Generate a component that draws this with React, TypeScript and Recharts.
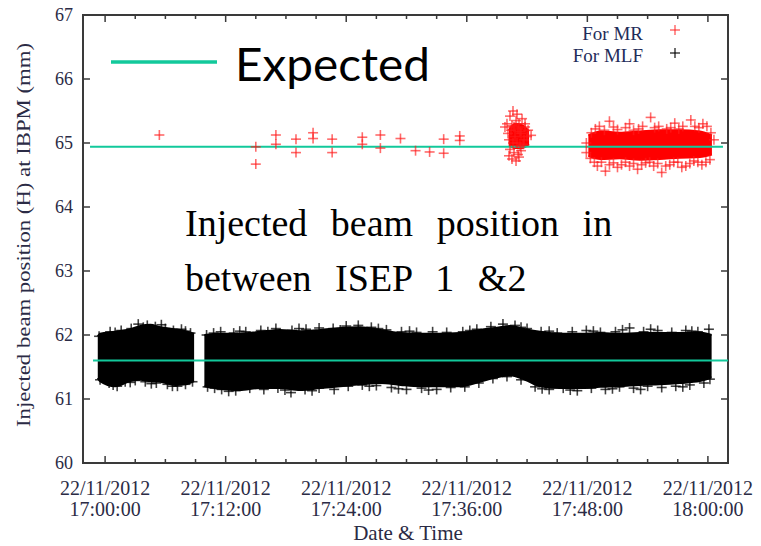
import React from 'react';
import { ComposedChart, XAxis, YAxis, Scatter, Area, ReferenceLine, ReferenceArea } from 'recharts';

// ---------- data (minutes after 17:00:00, position in mm) ----------
const xTicks = [0, 3, 6, 9, 12, 15, 18, 21, 24, 27, 30, 33, 36, 39, 42, 45, 48, 51, 54, 57, 60];
const xMajorTicks = [0, 12, 24, 36, 48, 60];
const xTickDate = '22/11/2012';
const xTickTimes = ['17:00:00', '17:12:00', '17:24:00', '17:36:00', '17:48:00', '18:00:00'];
const yTicks = [60, 61, 62, 63, 64, 65, 66, 67];

const expectedMR = 64.94;
const expectedMLF = 61.6;
const expectedMRSpan = [-1.5, 61.5];
const expectedMLFSpan = [-1.2, 62];

// MLF dense band envelope: [t, low, high]
const mlfBand1: [number, number, number][] = [
  [-0.73, 61.33, 61.98], [-0.5, 61.28, 62.02], [1.0, 61.2, 62.05], [2.5, 61.28, 62.09],
  [3.5, 61.3, 62.14], [4.5, 61.28, 62.16], [5.5, 61.27, 62.12], [7.0, 61.22, 62.09],
  [8.0, 61.23, 62.06], [8.86, 61.28, 62.02],
];
const mlfBand2: [number, number, number][] = [
  [9.88, 61.2, 62.0], [11.4, 61.16, 62.02], [13.4, 61.14, 62.02], [15.4, 61.17, 62.05],
  [17.4, 61.17, 62.08], [19.4, 61.14, 62.06], [21.4, 61.17, 62.08], [23.4, 61.2, 62.11],
  [25.4, 61.23, 62.12], [27.4, 61.25, 62.08], [29.4, 61.22, 62.03], [31.3, 61.2, 62.02],
  [33.3, 61.2, 62.02], [35.3, 61.2, 62.03], [37.3, 61.27, 62.08], [38.8, 61.33, 62.11],
  [40.3, 61.37, 62.14], [41.8, 61.3, 62.09], [43.3, 61.2, 62.05], [45.3, 61.17, 62.02],
  [47.3, 61.17, 62.02], [49.3, 61.19, 62.03], [51.2, 61.2, 62.02], [53.2, 61.22, 62.03],
  [55.2, 61.23, 62.03], [57.2, 61.25, 62.03], [59.2, 61.28, 62.04], [60.37, 61.34, 62.0],
];
// MLF outlying shots along the band edges: [t, v]
const mlfEdgePoints: [number, number][] = [
  [-0.6, 61.98], [0.5, 62.05], [1.6, 62.07], [2.6, 62.1], [3.3, 62.17], [4.2, 62.15], [5.0, 62.13],
  [6.0, 62.1], [6.8, 62.07], [7.6, 62.09], [8.5, 62.03], [1.0, 62.04], [3.8, 62.12], [5.6, 62.16], [8.0, 62.06],
  [-0.5, 61.3], [0.4, 61.25], [1.2, 61.2], [2.0, 61.27], [3.0, 61.29], [4.0, 61.27], [5.1, 61.25],
  [6.2, 61.23], [7.2, 61.2], [8.0, 61.23], [8.7, 61.27], [0.8, 61.22], [2.5, 61.26], [4.6, 61.24], [6.7, 61.2],
  [10.1, 62.0], [11.5, 62.05], [12.8, 62.03], [14.0, 62.05], [15.5, 62.07], [17.0, 62.1], [18.6, 62.07],
  [20.0, 62.09], [21.3, 62.11], [22.7, 62.1], [24.0, 62.14], [25.2, 62.15], [26.5, 62.12], [28.0, 62.08],
  [29.5, 62.05], [31.0, 62.04], [32.6, 62.05], [34.0, 62.04], [35.6, 62.05], [37.0, 62.09], [38.4, 62.13],
  [39.6, 62.17], [40.8, 62.15], [42.0, 62.1], [43.4, 62.05], [45.0, 62.03], [46.5, 62.05], [47.9, 62.07],
  [49.3, 62.04], [50.8, 62.05], [52.2, 62.11], [53.6, 62.05], [55.0, 62.07], [56.4, 62.04], [57.8, 62.07],
  [59.0, 62.05], [60.1, 62.09],
  [10.8, 62.03], [13.4, 62.06], [16.2, 62.05], [19.3, 62.1], [23.4, 62.08], [27.2, 62.1], [30.3, 62.06],
  [36.3, 62.07], [41.4, 62.12], [44.2, 62.06], [48.6, 62.06], [51.5, 62.08], [54.3, 62.09], [58.4, 62.06],
  [10.2, 61.19], [11.6, 61.15], [13.0, 61.13], [14.4, 61.17], [15.8, 61.15], [17.2, 61.17], [18.5, 61.1],
  [19.9, 61.15], [21.3, 61.17], [22.8, 61.15], [24.2, 61.2], [25.6, 61.22], [27.0, 61.21], [28.5, 61.18],
  [30.0, 61.15], [31.5, 61.17], [33.0, 61.15], [34.4, 61.18], [35.8, 61.19], [37.2, 61.25], [38.6, 61.32],
  [40.0, 61.35], [41.4, 61.3], [42.8, 61.19], [44.2, 61.15], [45.6, 61.17], [47.0, 61.13], [48.4, 61.17],
  [49.8, 61.15], [51.2, 61.19], [52.6, 61.17], [54.0, 61.2], [55.4, 61.18], [56.8, 61.2], [58.2, 61.22],
  [59.6, 61.25], [60.2, 61.31],
  [10.9, 61.17], [12.3, 61.12], [17.9, 61.14], [20.6, 61.13], [26.3, 61.2], [29.2, 61.16], [32.2, 61.14],
  [43.5, 61.16], [46.3, 61.14], [50.5, 61.16], [53.3, 61.15], [57.5, 61.19],
];

// MR sparse shots
const mrSparse: [number, number][] = [
  [5.4, 65.125], [15.0, 64.94], [15.0, 64.67], [17.0, 65.125], [17.0, 64.98], [19.0, 65.06], [19.0, 64.85],
  [20.7, 65.16], [20.7, 65.07], [22.6, 65.06], [22.6, 64.85], [25.6, 65.09], [25.6, 64.98], [27.4, 65.125],
  [27.4, 64.92], [29.4, 65.07], [30.9, 64.88], [32.3, 64.86], [33.7, 65.06], [33.7, 64.84], [35.3, 65.11],
  [35.3, 65.04],
];
// MR cluster near 17:40
const mrClusterCore: [number, number, number][] = [
  [40.2, 64.97, 65.2], [40.8, 64.92, 65.3], [41.5, 64.92, 65.28], [42.2, 64.98, 65.18],
];
const mrCluster: [number, number][] = [
  [40.0, 65.3], [40.3, 65.42], [40.6, 65.5], [40.9, 65.35], [41.2, 65.3], [41.5, 65.38], [41.8, 65.25],
  [42.1, 65.2], [42.4, 65.12], [40.1, 65.15], [40.4, 65.2], [40.8, 65.1], [41.1, 65.22], [41.4, 65.15],
  [41.7, 65.05], [42.0, 65.1], [39.8, 65.25], [40.2, 65.05], [40.6, 65.0], [41.0, 65.0], [41.3, 64.95],
  [41.6, 64.98], [40.3, 64.9], [40.7, 64.85], [41.1, 64.82], [41.4, 64.88], [40.5, 64.75], [40.9, 64.72],
  [41.2, 64.78], [40.2, 64.8], [41.8, 65.3], [40.5, 65.27], [41.0, 65.45], [40.7, 65.25], [41.3, 65.18],
];
// MR dense band envelope
const mrBand: [number, number, number][] = [
  [48.1, 64.8, 65.12], [49.3, 64.75, 65.18], [51.2, 64.76, 65.16], [53.2, 64.74, 65.18],
  [55.2, 64.75, 65.2], [57.2, 64.77, 65.2], [59.2, 64.78, 65.18], [60.4, 64.82, 65.12],
];
const mrEdgePoints: [number, number][] = [
  [48.4, 65.16], [49.2, 65.26], [50.2, 65.34], [51.0, 65.21], [51.8, 65.24], [52.6, 65.2], [53.5, 65.26],
  [54.3, 65.4], [55.1, 65.26], [55.9, 65.22], [56.7, 65.31], [57.5, 65.26], [58.3, 65.36], [59.1, 65.24],
  [59.9, 65.26], [60.3, 65.16],
  [48.8, 65.22], [49.7, 65.2], [50.6, 65.25], [52.2, 65.3], [53.1, 65.22], [54.7, 65.24], [56.3, 65.24],
  [57.1, 65.22], [58.7, 65.26], [59.5, 65.3], [60.6, 65.05], [47.9, 65.0],
  [48.3, 64.76], [49.0, 64.64], [49.8, 64.56], [50.6, 64.69], [51.4, 64.66], [52.2, 64.64], [53.0, 64.59],
  [53.8, 64.69], [54.6, 64.64], [55.4, 64.54], [56.2, 64.66], [57.0, 64.7], [57.8, 64.64], [58.6, 64.72],
  [59.4, 64.66], [60.2, 64.74],
  [48.7, 64.7], [49.4, 64.7], [50.2, 64.66], [51.0, 64.62], [51.8, 64.7], [52.6, 64.68], [53.4, 64.66],
  [54.2, 64.7], [55.0, 64.68], [55.8, 64.64], [56.6, 64.7], [57.4, 64.62], [58.2, 64.68], [59.0, 64.7],
  [59.8, 64.7], [47.9, 64.85],
];

// ---------- layout / style ----------
const W = 761;
const H = 546;
const MARGIN = { top: 15, right: 33, bottom: 0, left: 0 };
const PLOT_TOP = MARGIN.top;
const PLOT_RIGHT = W - MARGIN.right;
const X_DOMAIN: [number, number] = [-2.2, 62];
const Y_DOMAIN: [number, number] = [60, 67];
const GREEN = '#12c99b';
const FRAME = '#3a3a3a';
const AXIS_TEXT = '#2b2b45';
const SERIF = '"Liberation Serif", "DejaVu Serif", serif';

const toPts = (arr: [number, number][]) => arr.map(([t, v]) => ({ t, v }));
const toBand = (arr: [number, number, number][]) => arr.map(([t, lo, hi]) => ({ t, range: [lo, hi] }));

const makeCross = (color: string, opacity: number) => (props: any) => {
  const { cx, cy } = props;
  if (cx == null || cy == null) return <g />;
  return (
    <g stroke={color} strokeOpacity={opacity} strokeWidth={1.6}>
      <line x1={cx - 5} y1={cy} x2={cx + 5} y2={cy} />
      <line x1={cx} y1={cy - 5} x2={cx} y2={cy + 5} />
    </g>
  );
};
const RedCross = makeCross('#ff1a1a', 0.65);
const BlackCross = makeCross('#000', 0.75);

const XTick = (props: any) => {
  const { x, y, payload } = props;
  const v = payload.value;
  const idx = xMajorTicks.indexOf(v);
  const major = idx >= 0;
  const len = major ? 7 : 4;
  return (
    <g>
      <line x1={x} y1={y} x2={x} y2={y - len} stroke={FRAME} strokeWidth={1.5} />
      <line x1={x} y1={PLOT_TOP} x2={x} y2={PLOT_TOP + len} stroke={FRAME} strokeWidth={1.5} />
      {major && (
        <text x={x} y={y + 32} textAnchor="middle" fontFamily={SERIF} fontSize={20} fill={AXIS_TEXT}>
          {xTickDate}
        </text>
      )}
      {major && (
        <text x={x} y={y + 53} textAnchor="middle" fontFamily={SERIF} fontSize={20} fill={AXIS_TEXT}>
          {xTickTimes[idx]}
        </text>
      )}
    </g>
  );
};

const YTick = (props: any) => {
  const { x, y, payload } = props;
  return (
    <g>
      <line x1={x} y1={y} x2={x + 7} y2={y} stroke={FRAME} strokeWidth={1.5} />
      <line x1={PLOT_RIGHT} y1={y} x2={PLOT_RIGHT - 7} y2={y} stroke={FRAME} strokeWidth={1.5} />
      <text x={x - 10} y={y + 6} textAnchor="end" fontFamily={SERIF} fontSize={18} fill={AXIS_TEXT}>
        {payload.value}
      </text>
    </g>
  );
};

export default function App() {
  return (
    <div style={{ position: 'absolute', left: 0, top: 0, width: W, height: H, background: '#fff' }}>
      <ComposedChart width={W} height={H} margin={MARGIN}>
        <XAxis
          type="number"
          dataKey="t"
          domain={X_DOMAIN}
          ticks={xTicks}
          interval={0}
          allowDataOverflow
          tick={(p: any) => <XTick {...p} />}
          tickLine={false}
          axisLine={false}
          tickSize={0}
          tickMargin={0}
          height={83}
        />
        <YAxis
          type="number"
          domain={Y_DOMAIN}
          ticks={yTicks}
          interval={0}
          allowDataOverflow
          tick={(p: any) => <YTick {...p} />}
          tickLine={false}
          axisLine={false}
          tickSize={0}
          tickMargin={0}
          width={83}
        />
        <ReferenceArea x1={X_DOMAIN[0]} x2={X_DOMAIN[1]} y1={Y_DOMAIN[0]} y2={Y_DOMAIN[1]} fill="none" stroke={FRAME} strokeWidth={2} fillOpacity={0} />
        <Area data={toBand(mlfBand1)} dataKey="range" type="monotone" stroke="#000" strokeWidth={2} fill="#000" fillOpacity={1} isAnimationActive={false} dot={false} activeDot={false} />
        <Area data={toBand(mlfBand2)} dataKey="range" type="monotone" stroke="#000" strokeWidth={2} fill="#000" fillOpacity={1} isAnimationActive={false} dot={false} activeDot={false} />
        <Scatter data={toPts(mlfEdgePoints)} dataKey="v" shape={BlackCross} isAnimationActive={false} />
        <Area data={toBand(mrBand)} dataKey="range" type="monotone" stroke="#ff0000" strokeWidth={2} fill="#ff0000" fillOpacity={1} isAnimationActive={false} dot={false} activeDot={false} />
        <Area data={toBand(mrClusterCore)} dataKey="range" type="monotone" stroke="#ff0000" strokeWidth={2} fill="#ff0000" fillOpacity={1} isAnimationActive={false} dot={false} activeDot={false} />
        <Scatter data={toPts(mrEdgePoints)} dataKey="v" shape={RedCross} isAnimationActive={false} />
        <Scatter data={toPts(mrCluster)} dataKey="v" shape={RedCross} isAnimationActive={false} />
        <Scatter data={toPts(mrSparse)} dataKey="v" shape={RedCross} isAnimationActive={false} />
        <ReferenceLine segment={[{ x: expectedMRSpan[0], y: expectedMR }, { x: expectedMRSpan[1], y: expectedMR }]} stroke={GREEN} strokeWidth={2} />
        <ReferenceLine segment={[{ x: expectedMLFSpan[0], y: expectedMLF }, { x: expectedMLFSpan[1], y: expectedMLF }]} stroke={GREEN} strokeWidth={2} />
      </ComposedChart>
      <svg width={W} height={H} style={{ position: 'absolute', left: 0, top: 0, pointerEvents: 'none' }}>
        <line x1={111} y1={62} x2={217} y2={62} stroke={GREEN} strokeWidth={3.5} />
        <text x={235} y={81} fontFamily="Lato, 'Open Sans', sans-serif" fontSize={47} textLength={195} lengthAdjust="spacingAndGlyphs" fill="#000">Expected</text>
        <text x={643} y={40} textAnchor="end" fontFamily={SERIF} fontSize={19} fill="#1f2d5a">For MR</text>
        <text x={643} y={62} textAnchor="end" fontFamily={SERIF} fontSize={19} fill="#1f2d5a">For MLF</text>
        <g stroke="#ff1a1a" strokeOpacity={0.6} strokeWidth={1.6}>
          <line x1={670} y1={30} x2={680} y2={30} />
          <line x1={675} y1={25} x2={675} y2={35} />
        </g>
        <g stroke="#000" strokeOpacity={0.7} strokeWidth={1.6}>
          <line x1={670} y1={53} x2={680} y2={53} />
          <line x1={675} y1={48} x2={675} y2={58} />
        </g>
        <text x={185} y={236} fontFamily={SERIF} fontSize={38} wordSpacing={14} fill="#000">Injected beam position in</text>
        <text x={185} y={291} fontFamily={SERIF} fontSize={38} wordSpacing={14} fill="#000">between ISEP 1 &amp;2</text>
        <text x={408} y={540} textAnchor="middle" fontFamily={SERIF} fontSize={21} fill={AXIS_TEXT}>Date &amp; Time</text>
        <text transform="translate(30,235) rotate(-90)" textAnchor="middle" fontFamily={SERIF} fontSize={18} textLength={384} lengthAdjust="spacingAndGlyphs" fill={AXIS_TEXT}>Injected beam position (H) at IBPM (mm)</text>
      </svg>
    </div>
  );
}
